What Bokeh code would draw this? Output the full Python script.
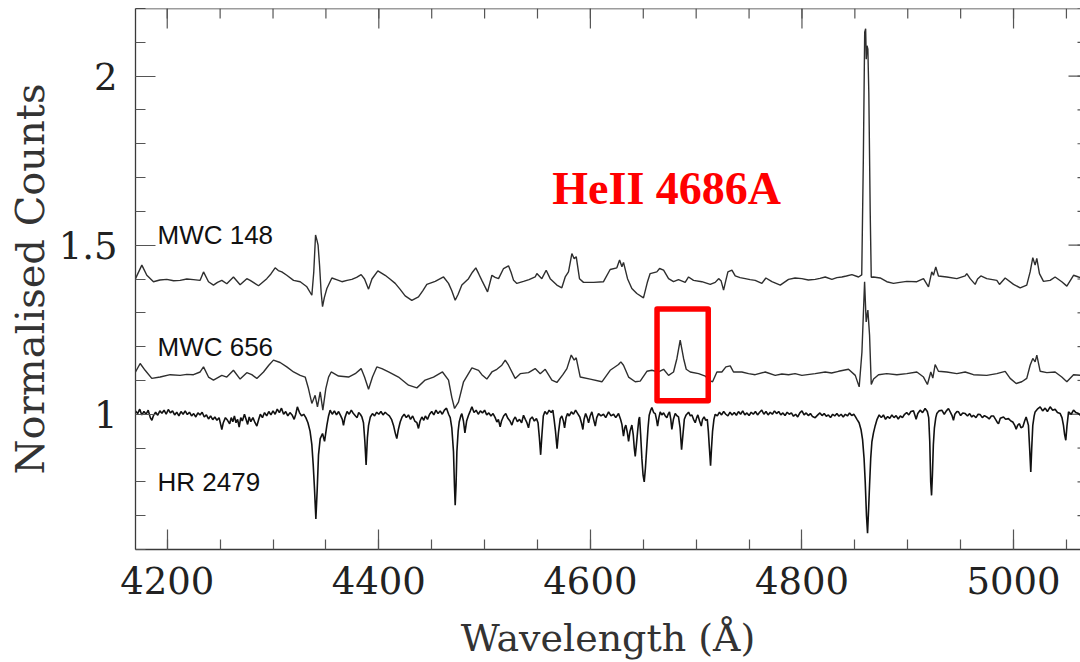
from bokeh.plotting import figure
from bokeh.models import FixedTicker, BoxAnnotation, Range1d, Span
from bokeh.embed import file_html
from bokeh.resources import INLINE
from bokeh.core.properties import value

# ---------------- data ----------------
mwc148_wl = [4170.0, 4176.0, 4180.7, 4187.0, 4193.0, 4199.6, 4206.0, 4212.2, 4218.5, 4224.8, 4231.1, 4234.3,
             4239.0, 4243.7, 4247.5, 4251.6, 4256.3, 4262.6, 4268.9, 4275.2, 4278.4, 4286.3, 4294.1, 4298.0,
             4302.0, 4305.0, 4308.3, 4313.0, 4319.4, 4325.7, 4332.0, 4336.7, 4338.5, 4340.2, 4341.5, 4342.6,
             4344.0, 4345.5, 4346.8, 4348.5, 4350.9, 4355.6, 4360.0, 4365.1, 4370.0, 4374.5, 4379.0, 4383.3,
             4386.5, 4390.3, 4393.5, 4399.1, 4406.0, 4410.5, 4415.5, 4420.0, 4424.9, 4431.2, 4437.5, 4441.5,
             4445.4, 4453.3, 4461.2, 4465.9, 4469.0, 4472.2, 4475.0, 4478.5, 4484.8, 4488.5, 4491.7, 4494.5,
             4497.4, 4502.8, 4506.9, 4510.0, 4513.2, 4517.9, 4522.6, 4525.0, 4527.4, 4530.5, 4536.8, 4542.0,
             4547.8, 4549.4, 4554.1, 4558.2, 4562.0, 4568.3, 4573.0, 4576.2, 4579.3, 4582.5, 4584.7, 4586.6,
             4589.7, 4593.5, 4603.0, 4612.4, 4618.7, 4625.0, 4627.6, 4629.8, 4631.3, 4635.1, 4639.2, 4643.9,
             4650.2, 4654.0, 4656.5, 4662.8, 4665.4, 4669.2, 4673.9, 4678.6, 4683.3, 4689.6, 4692.8, 4697.5,
             4705.4, 4713.3, 4718.0, 4721.2, 4723.5, 4725.9, 4728.0, 4730.0, 4733.8, 4736.9, 4741.5, 4746.4,
             4751.0, 4755.8, 4762.1, 4765.9, 4771.6, 4779.5, 4787.3, 4793.5, 4799.9, 4806.0, 4812.5, 4817.0,
             4822.0, 4828.3, 4833.0, 4837.7, 4842.0, 4847.2, 4853.5, 4856.5, 4858.0, 4859.3, 4860.2, 4860.8,
             4861.5, 4862.3, 4863.2, 4864.5, 4865.5, 4867.6, 4873.9, 4880.2, 4886.5, 4892.5, 4899.1, 4908.6,
             4914.9, 4919.6, 4922.7, 4924.3, 4926.5, 4929.0, 4936.9, 4946.4, 4954.3, 4955.8, 4959.0, 4963.7,
             4966.0, 4969.1, 4974.7, 4984.2, 4986.7, 4992.1, 5000.0, 5006.3, 5012.5, 5015.7, 5018.2, 5020.4,
             5022.0, 5024.5, 5028.3, 5034.6, 5039.3, 5045.6, 5050.4, 5056.7, 5061.4, 5063.3]
mwc148_flux = [1.401, 1.441, 1.411, 1.392, 1.397, 1.399, 1.395, 1.396, 1.400, 1.398, 1.396, 1.421,
               1.392, 1.382, 1.390, 1.396, 1.386, 1.406, 1.383, 1.401, 1.396, 1.380, 1.401, 1.415,
               1.433, 1.425, 1.421, 1.411, 1.396, 1.392, 1.377, 1.352, 1.420, 1.530, 1.515, 1.500,
               1.440, 1.360, 1.318, 1.345, 1.372, 1.403, 1.398, 1.392, 1.396, 1.399, 1.405, 1.413,
               1.400, 1.370, 1.400, 1.424, 1.411, 1.400, 1.387, 1.370, 1.350, 1.337, 1.347, 1.365,
               1.384, 1.393, 1.406, 1.387, 1.365, 1.337, 1.355, 1.382, 1.401, 1.420, 1.433, 1.415,
               1.396, 1.362, 1.411, 1.405, 1.401, 1.431, 1.439, 1.420, 1.396, 1.387, 1.393, 1.398,
               1.406, 1.416, 1.401, 1.426, 1.401, 1.382, 1.374, 1.406, 1.421, 1.475, 1.460, 1.466,
               1.401, 1.390, 1.390, 1.392, 1.428, 1.433, 1.456, 1.436, 1.449, 1.401, 1.372, 1.357,
               1.344, 1.392, 1.416, 1.421, 1.431, 1.426, 1.401, 1.392, 1.398, 1.390, 1.406, 1.396,
               1.392, 1.384, 1.390, 1.401, 1.395, 1.367, 1.395, 1.421, 1.426, 1.409, 1.404, 1.401,
               1.398, 1.396, 1.387, 1.403, 1.392, 1.382, 1.399, 1.403, 1.401, 1.397, 1.399, 1.402,
               1.406, 1.399, 1.404, 1.406, 1.409, 1.413, 1.406, 1.412, 1.750, 2.130, 2.140, 2.050,
               2.090, 2.080, 1.950, 1.600, 1.405, 1.406, 1.403, 1.392, 1.387, 1.390, 1.393, 1.392,
               1.401, 1.377, 1.421, 1.411, 1.436, 1.409, 1.406, 1.401, 1.409, 1.416, 1.401, 1.384,
               1.400, 1.409, 1.401, 1.396, 1.384, 1.403, 1.384, 1.374, 1.382, 1.421, 1.463, 1.441,
               1.461, 1.416, 1.393, 1.396, 1.406, 1.392, 1.379, 1.411, 1.406, 1.404]

mwc656_wl = [4170.0, 4174.4, 4179.1, 4185.4, 4193.3, 4202.8, 4212.2, 4218.5, 4224.8, 4231.1, 4234.3, 4239.0,
             4243.7, 4251.6, 4256.3, 4262.6, 4268.9, 4275.2, 4279.9, 4284.7, 4291.0, 4296.0, 4300.4, 4306.7,
             4313.0, 4319.4, 4325.7, 4330.4, 4333.5, 4336.7, 4339.8, 4342.0, 4344.6, 4347.1, 4349.9, 4352.5,
             4355.0, 4361.9, 4371.4, 4377.7, 4383.3, 4386.5, 4390.3, 4394.0, 4398.1, 4402.9, 4409.2, 4418.6,
             4428.1, 4436.0, 4443.8, 4451.7, 4460.2, 4465.9, 4469.0, 4471.6, 4475.3, 4480.1, 4488.0, 4494.3,
             4497.4, 4502.1, 4506.9, 4511.6, 4516.3, 4519.5, 4522.6, 4528.9, 4533.7, 4541.5, 4547.8, 4552.6,
             4557.3, 4563.6, 4568.3, 4574.0, 4577.8, 4581.9, 4584.7, 4586.6, 4590.4, 4599.8, 4610.9, 4618.7,
             4626.6, 4628.8, 4631.3, 4636.1, 4642.4, 4647.1, 4653.4, 4658.1, 4664.4, 4669.2, 4673.9, 4678.6,
             4681.8, 4684.9, 4688.1, 4690.6, 4694.4, 4702.3, 4708.6, 4712.5, 4715.5, 4719.6, 4724.3, 4728.1,
             4732.2, 4735.3, 4743.2, 4749.5, 4755.8, 4765.3, 4774.7, 4781.0, 4787.3, 4793.5, 4799.9, 4812.5,
             4822.0, 4828.0, 4834.6, 4844.0, 4850.4, 4854.1, 4856.7, 4859.2, 4860.7, 4862.3, 4863.9, 4865.5,
             4867.7, 4872.4, 4880.2, 4889.7, 4899.1, 4908.6, 4914.9, 4918.6, 4921.8, 4923.7, 4925.9, 4929.0,
             4936.9, 4946.4, 4954.3, 4962.1, 4974.7, 4984.2, 4992.1, 4996.8, 5002.5, 5007.8, 5012.5, 5015.7,
             5018.2, 5020.4, 5022.0, 5025.2, 5031.5, 5039.3, 5045.6, 5050.4, 5056.7, 5063.3]
mwc656_flux = [1.125, 1.150, 1.130, 1.106, 1.110, 1.117, 1.115, 1.118, 1.117, 1.125, 1.140, 1.110,
               1.101, 1.115, 1.110, 1.130, 1.104, 1.123, 1.117, 1.106, 1.125, 1.145, 1.160, 1.153,
               1.140, 1.125, 1.115, 1.110, 1.076, 1.032, 1.056, 1.022, 1.066, 1.012, 1.076, 1.110,
               1.125, 1.113, 1.110, 1.120, 1.135, 1.110, 1.074, 1.110, 1.140, 1.135, 1.125, 1.110,
               1.086, 1.078, 1.101, 1.110, 1.125, 1.101, 1.050, 1.017, 1.036, 1.096, 1.137, 1.130,
               1.117, 1.104, 1.125, 1.133, 1.145, 1.160, 1.145, 1.106, 1.120, 1.123, 1.135, 1.120,
               1.133, 1.101, 1.094, 1.117, 1.135, 1.175, 1.160, 1.167, 1.110, 1.104, 1.096, 1.130,
               1.147, 1.155, 1.145, 1.110, 1.096, 1.098, 1.127, 1.130, 1.125, 1.133, 1.115, 1.125,
               1.165, 1.219, 1.165, 1.133, 1.125, 1.120, 1.113, 1.100, 1.096, 1.125, 1.125, 1.140,
               1.143, 1.125, 1.125, 1.120, 1.117, 1.125, 1.115, 1.119, 1.117, 1.120, 1.115, 1.120,
               1.125, 1.122, 1.127, 1.133, 1.115, 1.081, 1.184, 1.392, 1.273, 1.308, 1.234, 1.088,
               1.104, 1.117, 1.120, 1.117, 1.120, 1.125, 1.110, 1.088, 1.125, 1.107, 1.147, 1.127,
               1.125, 1.120, 1.125, 1.117, 1.115, 1.120, 1.127, 1.106, 1.091, 1.096, 1.106, 1.145,
               1.165, 1.155, 1.175, 1.127, 1.123, 1.125, 1.110, 1.096, 1.117, 1.115]

hr2479_wl = [4170.0, 4172.0, 4174.0, 4176.0, 4178.0, 4180.0, 4182.0, 4184.0, 4185.5, 4187.0, 4189.0, 4191.0,
             4193.0, 4195.0, 4197.0, 4199.0, 4201.0, 4203.0, 4205.0, 4207.0, 4209.0, 4211.0, 4213.0, 4215.0,
             4217.0, 4219.0, 4221.0, 4223.0, 4225.0, 4227.0, 4229.0, 4231.0, 4233.0, 4235.0, 4237.0, 4239.0,
             4241.0, 4243.0, 4245.0, 4247.0, 4249.0, 4250.5, 4251.6, 4253.0, 4255.0, 4257.0, 4259.0, 4260.5,
             4262.0, 4263.5, 4265.0, 4266.5, 4268.0, 4269.5, 4271.0, 4273.0, 4274.5, 4276.0, 4277.5, 4279.0,
             4281.0, 4283.0, 4284.7, 4286.5, 4288.0, 4290.0, 4292.0, 4294.0, 4296.0, 4298.0, 4300.0, 4302.0,
             4304.0, 4306.0, 4308.0, 4310.0, 4312.0, 4314.0, 4316.0, 4318.0, 4320.0, 4321.5, 4323.0, 4325.0,
             4327.0, 4329.0, 4331.0, 4333.0, 4335.0, 4336.7, 4338.0, 4339.2, 4340.5, 4341.8, 4343.0, 4344.6,
             4346.8, 4348.7, 4350.9, 4352.5, 4354.0, 4356.0, 4358.0, 4360.0, 4362.0, 4364.0, 4365.5, 4366.6,
             4368.0, 4370.0, 4372.0, 4374.0, 4376.0, 4378.0, 4379.5, 4381.0, 4382.5, 4384.0, 4385.5, 4386.8,
             4388.0, 4389.2, 4390.3, 4392.0, 4394.0, 4396.0, 4398.0, 4400.0, 4402.0, 4404.0, 4406.0, 4408.0,
             4410.0, 4412.0, 4413.9, 4415.5, 4417.0, 4418.5, 4420.2, 4422.0, 4424.0, 4426.0, 4428.0, 4430.0,
             4432.0, 4434.0, 4436.0, 4437.5, 4439.0, 4440.7, 4442.5, 4444.0, 4446.0, 4448.0, 4450.0, 4452.0,
             4454.0, 4456.0, 4458.0, 4460.0, 4462.0, 4464.0, 4466.0, 4467.5, 4469.0, 4470.6, 4471.5, 4472.2,
             4473.0, 4473.8, 4475.0, 4476.0, 4477.5, 4478.5, 4480.0, 4481.4, 4483.0, 4484.8, 4486.5, 4488.0,
             4490.0, 4492.0, 4494.0, 4496.0, 4498.0, 4500.0, 4502.0, 4504.0, 4506.0, 4508.0, 4510.0, 4511.6,
             4513.0, 4514.7, 4516.0, 4518.0, 4520.0, 4522.0, 4524.0, 4525.8, 4527.5, 4529.0, 4531.0, 4533.0,
             4535.0, 4536.8, 4538.5, 4540.0, 4541.5, 4543.0, 4545.0, 4547.0, 4549.0, 4550.5, 4551.8, 4553.0,
             4554.2, 4555.5, 4557.0, 4559.0, 4561.0, 4563.0, 4564.5, 4565.7, 4567.0, 4568.5, 4569.8, 4571.5,
             4573.0, 4574.5, 4575.6, 4577.0, 4578.4, 4580.0, 4582.0, 4584.0, 4586.0, 4588.0, 4590.0, 4591.5,
             4592.9, 4594.0, 4595.5, 4597.0, 4598.3, 4599.8, 4601.4, 4603.0, 4604.6, 4606.0, 4607.7, 4610.0,
             4612.4, 4614.5, 4617.2, 4619.5, 4621.9, 4624.0, 4626.6, 4628.5, 4629.8, 4631.3, 4632.5, 4633.5,
             4635.0, 4636.1, 4637.5, 4639.2, 4640.5, 4641.5, 4642.4, 4643.5, 4644.6, 4645.8, 4646.5, 4647.5,
             4648.7, 4649.8, 4650.9, 4652.0, 4653.4, 4654.5, 4655.6, 4657.0, 4658.1, 4659.8, 4661.3, 4662.5,
             4663.5, 4664.8, 4666.0, 4667.5, 4669.2, 4670.8, 4672.3, 4673.5, 4674.8, 4676.0, 4677.0, 4678.5,
             4680.2, 4682.0, 4683.3, 4684.8, 4686.2, 4687.5, 4688.8, 4690.5, 4692.8, 4694.5, 4696.0, 4697.5,
             4699.1, 4700.5, 4701.6, 4703.2, 4704.8, 4706.0, 4707.5, 4709.0, 4710.5, 4711.5, 4712.5, 4713.6,
             4714.5, 4715.5, 4716.8, 4718.0, 4720.0, 4722.0, 4724.0, 4726.0, 4728.0, 4730.0, 4732.0, 4734.0,
             4736.0, 4738.0, 4740.0, 4742.0, 4744.0, 4746.0, 4748.0, 4750.0, 4752.0, 4754.0, 4756.0, 4758.0,
             4760.0, 4762.0, 4764.0, 4766.0, 4768.0, 4770.0, 4772.0, 4774.0, 4776.0, 4778.0, 4780.0, 4782.0,
             4784.0, 4786.0, 4788.0, 4790.0, 4792.0, 4794.0, 4796.0, 4798.0, 4800.0, 4802.0, 4804.0, 4806.0,
             4808.0, 4810.0, 4812.5, 4815.0, 4817.0, 4819.0, 4821.0, 4823.0, 4825.0, 4827.0, 4829.0, 4831.0,
             4833.0, 4835.0, 4837.0, 4839.0, 4841.0, 4843.0, 4845.0, 4847.0, 4849.0, 4850.5, 4852.0, 4854.0,
             4855.8, 4857.3, 4858.7, 4859.8, 4861.0, 4862.0, 4863.0, 4863.9, 4865.0, 4866.1, 4867.6, 4869.3,
             4871.0, 4873.0, 4875.0, 4877.0, 4879.0, 4881.0, 4883.0, 4885.0, 4887.0, 4889.0, 4891.0, 4893.0,
             4895.0, 4897.0, 4899.0, 4901.0, 4903.0, 4905.4, 4907.0, 4907.9, 4909.5, 4911.7, 4914.0, 4916.4,
             4918.5, 4919.8, 4920.8, 4921.7, 4922.5, 4923.3, 4924.2, 4925.2, 4926.5, 4927.5, 4929.5, 4932.2,
             4934.5, 4936.5, 4938.5, 4940.5, 4942.0, 4943.2, 4944.5, 4946.5, 4948.0, 4950.0, 4952.0, 4954.3,
             4956.5, 4958.5, 4960.5, 4962.1, 4964.5, 4966.5, 4968.5, 4970.5, 4972.5, 4974.7, 4977.0, 4979.0,
             4981.0, 4983.0, 4984.8, 4985.8, 4987.5, 4990.5, 4992.5, 4995.2, 4997.5, 4999.3, 5001.0, 5002.5,
             5004.0, 5005.6, 5007.0, 5008.8, 5010.5, 5011.9, 5013.0, 5014.1, 5015.2, 5016.3, 5017.2, 5018.2,
             5019.5, 5020.4, 5022.5, 5025.2, 5027.5, 5029.9, 5032.0, 5034.6, 5037.0, 5039.3, 5041.5, 5044.1,
             5045.8, 5047.2, 5048.3, 5049.4, 5050.5, 5052.0, 5054.5, 5056.7, 5059.0, 5061.4, 5063.3]
hr2479_flux = [1.010, 1.002, 1.015, 0.998, 1.008, 1.000, 1.012, 0.990, 0.982, 0.996, 1.006, 0.997,
               1.010, 1.003, 1.012, 1.000, 1.014, 1.004, 1.010, 0.998, 1.006, 0.995, 1.008, 1.000,
               1.010, 0.999, 1.006, 0.995, 1.002, 0.992, 1.004, 0.998, 1.006, 0.992, 0.998, 0.986,
               0.995, 0.984, 0.992, 0.982, 0.990, 0.970, 0.955, 0.975, 0.990, 0.982, 0.972, 0.990,
               0.978, 0.995, 0.975, 0.985, 0.962, 0.990, 0.980, 1.000, 0.985, 0.970, 0.992, 0.978,
               0.990, 0.975, 0.965, 0.985, 1.000, 0.990, 1.005, 0.995, 1.008, 0.998, 1.010, 1.000,
               1.015, 1.005, 1.018, 1.000, 1.008, 0.995, 1.005, 0.998, 0.985, 1.000, 1.022, 1.005,
               0.995, 1.000, 0.990, 0.975, 0.950, 0.910, 0.850, 0.780, 0.690, 0.780, 0.880, 0.928,
               0.943, 0.920, 0.967, 0.995, 1.012, 1.000, 1.010, 0.998, 1.008, 0.995, 0.985, 0.967,
               0.990, 1.008, 1.000, 1.012, 1.002, 0.995, 0.990, 1.005, 1.000, 0.992, 0.975, 0.920,
               0.850, 0.930, 0.967, 0.992, 1.002, 0.995, 1.006, 1.000, 1.008, 0.998, 1.006, 1.000,
               0.995, 0.985, 0.967, 0.945, 0.928, 0.955, 0.977, 0.992, 1.000, 0.990, 0.998, 0.985,
               0.995, 0.980, 0.975, 0.958, 0.980, 0.992, 0.982, 0.995, 0.985, 1.000, 1.008, 0.998,
               1.012, 1.002, 1.010, 1.000, 1.012, 1.018, 1.000, 0.990, 0.960, 0.889, 0.790, 0.731,
               0.790, 0.889, 0.950, 0.977, 0.995, 1.002, 0.980, 0.945, 0.980, 0.997, 1.010, 1.022,
               1.005, 1.012, 1.000, 1.010, 1.004, 1.012, 0.998, 1.004, 0.995, 1.002, 0.990, 0.977,
               0.985, 0.963, 0.980, 0.995, 1.002, 0.988, 0.980, 0.968, 0.985, 0.992, 0.978, 0.985,
               0.975, 0.997, 0.985, 0.975, 0.960, 0.985, 0.992, 0.980, 0.987, 0.975, 0.930, 0.880,
               0.940, 0.995, 1.008, 1.000, 1.012, 1.005, 1.012, 0.985, 0.950, 0.898, 0.945, 0.987,
               0.995, 0.980, 0.960, 0.990, 1.002, 0.995, 1.007, 1.000, 1.012, 1.002, 0.992, 0.975,
               0.955, 0.985, 1.002, 0.990, 0.975, 0.995, 1.007, 0.985, 0.965, 0.990, 1.002, 0.995,
               1.000, 0.990, 1.007, 0.995, 1.000, 0.990, 1.002, 0.985, 0.970, 0.935, 0.960, 0.968,
               0.945, 0.920, 0.950, 0.968, 0.940, 0.900, 0.875, 0.910, 0.948, 0.985, 0.992, 0.940,
               0.868, 0.820, 0.800, 0.840, 0.908, 0.960, 0.997, 1.012, 1.020, 1.005, 1.002, 0.985,
               0.965, 0.990, 1.007, 0.998, 1.004, 0.995, 0.990, 1.000, 1.007, 0.985, 0.955, 0.985,
               1.002, 0.995, 0.992, 0.960, 0.895, 0.940, 0.985, 0.998, 1.006, 0.995, 0.998, 0.985,
               0.975, 0.990, 0.998, 0.980, 0.965, 0.985, 0.992, 0.982, 0.985, 0.950, 0.900, 0.848,
               0.900, 0.950, 0.985, 1.000, 0.995, 1.006, 0.998, 1.008, 1.000, 0.995, 1.006, 0.998,
               1.005, 0.997, 1.008, 1.000, 1.010, 0.998, 1.004, 0.996, 1.006, 1.000, 1.008, 0.998,
               1.006, 1.012, 1.000, 1.008, 0.998, 1.006, 1.000, 1.010, 1.002, 1.008, 0.998, 1.004,
               0.996, 1.006, 1.000, 1.004, 0.994, 1.000, 0.992, 1.004, 1.010, 0.998, 1.004, 0.996,
               1.002, 0.993, 0.990, 0.998, 1.004, 0.996, 1.002, 0.994, 0.998, 0.990, 1.000, 0.995,
               1.002, 0.994, 1.000, 0.992, 1.000, 0.995, 1.004, 0.996, 1.000, 0.993, 0.985, 0.975,
               0.955, 0.925, 0.870, 0.800, 0.700, 0.648, 0.720, 0.790, 0.870, 0.918, 0.945, 0.967,
               0.985, 0.998, 0.990, 0.998, 0.985, 0.993, 0.988, 0.998, 0.990, 0.996, 0.986, 0.995,
               0.990, 1.000, 1.005, 0.998, 1.008, 1.010, 0.995, 0.985, 1.002, 1.012, 1.005, 1.017,
               1.008, 0.990, 0.920, 0.800, 0.760, 0.820, 0.910, 0.960, 0.990, 1.002, 1.010, 1.012,
               1.000, 1.010, 1.017, 1.005, 0.995, 0.982, 1.000, 1.008, 1.007, 0.996, 1.004, 1.002,
               0.995, 1.002, 0.992, 0.997, 0.990, 1.000, 0.999, 0.990, 0.996, 0.992, 0.986, 0.995,
               0.995, 0.985, 0.975, 0.972, 0.988, 0.992, 0.985, 0.987, 0.980, 0.977, 0.968, 0.956,
               0.968, 0.972, 0.960, 0.963, 0.980, 0.992, 0.980, 0.967, 0.900, 0.829, 0.900, 0.967,
               0.995, 1.007, 1.015, 1.022, 1.010, 1.018, 1.008, 1.022, 1.012, 1.015, 1.005, 1.002,
               0.990, 0.967, 0.940, 0.923, 0.965, 1.007, 1.000, 1.012, 1.005, 1.002, 0.997]

star_names = ["MWC 148", "MWC 656", "HR 2479"]
x_major = [4200, 4400, 4600, 4800, 5000]
x_minor = [4200 + 50 * i for i in range(18)]
y_major = [1.0, 1.5, 2.0]
y_minor = [round(0.6 + 0.1 * i, 1) for i in range(17)]

# ---------------- figure ----------------
X0, X1 = 4170.0, 5063.3
Y0, Y1 = 0.6, 2.2
FRAME_H = 541.0              # px of the plotting frame
FRAME_W = 945.0
py = (Y1 - Y0) / FRAME_H     # data units per px (vertical)
px = (X1 - X0) / FRAME_W     # data units per px (horizontal)

p = figure(width=1080, height=662, x_range=Range1d(X0, X1), y_range=Range1d(Y0, Y1),
           output_backend="svg", toolbar_location=None,
           min_border_left=135, min_border_right=0, min_border_top=8, min_border_bottom=113)
p.outline_line_color = None
p.xgrid.visible = False
p.ygrid.visible = False
p.background_fill_color = "white"
p.border_fill_color = "white"

AX = "#3a3a3a"
TICK = "#555555"
SERIF = "DejaVu Serif"


def style_axis(ax, ticks, minors):
    ax.ticker = FixedTicker(ticks=ticks, minor_ticks=minors)
    ax.major_tick_in = 20
    ax.major_tick_out = 0
    ax.minor_tick_in = 10
    ax.minor_tick_out = 0
    ax.axis_line_color = AX
    ax.axis_line_width = 1.3
    ax.major_tick_line_color = TICK
    ax.minor_tick_line_color = TICK
    ax.major_tick_line_width = 1.2
    ax.minor_tick_line_width = 1.2
    ax.major_label_text_font = SERIF
    ax.major_label_text_font_size = "37px"
    ax.major_label_text_color = "#222222"
    ax.axis_label_text_font = SERIF
    ax.axis_label_text_font_style = "normal"
    ax.axis_label_text_color = "#333333"


xa = p.xaxis[0]
style_axis(xa, x_major, x_minor)
xa.axis_label = "Wavelength (Å)"
xa.axis_label_text_font_size = "38px"
xa.major_label_standoff = 17
xa.axis_label_standoff = 19

ya = p.yaxis[0]
style_axis(ya, y_major, y_minor)
ya.axis_label = "Normalised Counts"
ya.axis_label_text_font_size = "40px"
ya.major_label_standoff = 18
ya.axis_label_standoff = 3
ya.major_label_overrides = {1.0: "1", 1.5: "1.5", 2.0: "2"}

# top frame line and inward ticks on the top and right sides
p.add_layout(Span(location=Y1, dimension="width", line_color=AX, line_width=1.3))
p.segment(x0=x_major, y0=[Y1] * len(x_major), x1=x_major, y1=[Y1 - 20 * py] * len(x_major),
          line_color=TICK, line_width=1.2)
p.segment(x0=x_minor, y0=[Y1] * len(x_minor), x1=x_minor, y1=[Y1 - 10 * py] * len(x_minor),
          line_color=TICK, line_width=1.2)
p.segment(x0=[X1] * len(y_major), y0=y_major, x1=[X1 - 12 * px] * len(y_major), y1=y_major,
          line_color=TICK, line_width=1.2)
p.segment(x0=[X1] * len(y_minor), y0=y_minor, x1=[X1 - 3 * px] * len(y_minor), y1=y_minor,
          line_color=TICK, line_width=1.2)

# ---------------- spectra ----------------
p.line(mwc148_wl, mwc148_flux, line_color="#2e2e2e", line_width=1.4)
p.line(mwc656_wl, mwc656_flux, line_color="#2e2e2e", line_width=1.4)
p.line(hr2479_wl, hr2479_flux, line_color="#111111", line_width=1.6)

# star labels
p.text(x=[4190.8] * 3, y=[1.530, 1.198, 0.799], text=star_names,
       text_font=value("Liberation Sans"), text_font_size="26px", text_color="#111111",
       text_align="left", text_baseline="alphabetic")

# He II annotation
p.text(x=[4564.0], y=[1.669], text=["HeII 4686A"],
       text_font=value("Liberation Serif"), text_font_style="bold", text_font_size="46px",
       text_color="#ff0000", text_align="left", text_baseline="alphabetic")

box = BoxAnnotation(left=4663.0, right=4711.4, bottom=1.040, top=1.311,
                    fill_alpha=0, line_color="#ff0000", line_alpha=1.0, line_width=5.5,
                    line_join="round")
p.add_layout(box)

open("out.html", "w").write(file_html(p, INLINE))
